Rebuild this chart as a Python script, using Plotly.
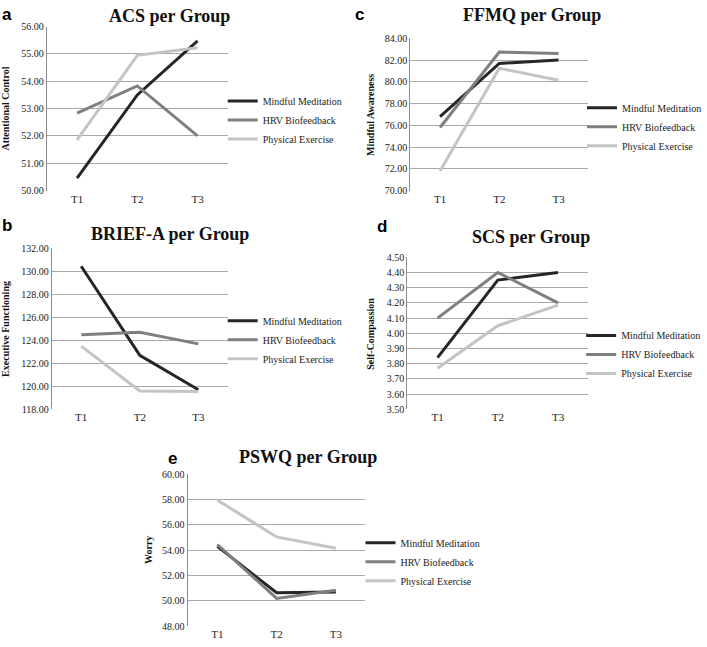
import plotly.graph_objects as go

times = ["T1", "T2", "T3"]
groups = ["Mindful Meditation", "HRV Biofeedback", "Physical Exercise"]
colors = ["#262626", "#7f7f7f", "#c4c4c4"]

# ACS
acs_mindful = [50.45, 53.50, 55.48]
acs_hrv = [52.83, 53.83, 52.00]
acs_physical = [51.85, 54.95, 55.23]

# BRIEF-A
brief_mindful = [130.45, 122.70, 119.70]
brief_hrv = [124.50, 124.70, 123.70]
brief_physical = [123.50, 119.60, 119.55]

# FFMQ
ffmq_mindful = [76.80, 81.70, 82.00]
ffmq_hrv = [75.80, 82.75, 82.62]
ffmq_physical = [71.80, 81.25, 80.15]

# SCS
scs_mindful = [3.84, 4.35, 4.40]
scs_hrv = [4.10, 4.40, 4.20]
scs_physical = [3.77, 4.05, 4.185]

# PSWQ
pswq_mindful = [54.30, 50.65, 50.70]
pswq_hrv = [54.45, 50.20, 50.85]
pswq_physical = [57.95, 55.05, 54.15]

W, H = 707, 647


def px(v):
    return v / W


def py(v):
    return 1 - v / H


# plot box is (left, right, top, bottom) in pixels of the 707x647 page
# leg = (x of legend box, y of first legend item)
panels = [
    dict(letter="a", title="ACS per Group", ytitle="Attentional Control",
         series=[acs_mindful, acs_hrv, acs_physical], rng=[50, 56], dtick=1,
         box=(47, 228, 21, 188), tpos=(170, 10), lpos=(7, 9), ytx=6, leg=(223, 91)),
    dict(letter="c", title="FFMQ per Group", ytitle="Mindful Awareness",
         series=[ffmq_mindful, ffmq_hrv, ffmq_physical], rng=[70, 84], dtick=2,
         box=(411, 589, 33, 188), tpos=(533, 9), lpos=(360, 9), ytx=371, leg=(583, 98)),
    dict(letter="b", title="BRIEF-A per Group", ytitle="Executive Functioning",
         series=[brief_mindful, brief_hrv, brief_physical], rng=[118, 132], dtick=2,
         box=(52, 228, 247, 411), tpos=(170, 232), lpos=(7, 224), ytx=6, leg=(223, 315)),
    dict(letter="d", title="SCS per Group", ytitle="Self-Compassion",
         series=[scs_mindful, scs_hrv, scs_physical], rng=[3.5, 4.5], dtick=0.1,
         box=(408, 589, 256, 411), tpos=(532, 235), lpos=(383, 225), ytx=371, leg=(582, 330)),
    dict(letter="e", title="PSWQ per Group", ytitle="Worry",
         series=[pswq_mindful, pswq_hrv, pswq_physical], rng=[48, 60], dtick=2,
         box=(188, 366, 477, 632), tpos=(308, 460), lpos=(173, 461), ytx=148, leg=(361, 541)),
]

serif = "'Liberation Serif', 'Times New Roman', serif"
fig = go.Figure()
annotations = []
layout = {}

for i, p in enumerate(panels):
    n = "" if i == 0 else str(i + 1)
    leg = "legend" + n
    for g, name in enumerate(groups):
        fig.add_trace(go.Scatter(
            x=times, y=p["series"][g], mode="lines", name=name,
            line=dict(color=colors[g], width=3),
            xaxis="x" + n, yaxis="y" + n, legend=leg,
        ))
    l, r, t, b = p["box"]
    layout["xaxis" + n] = dict(
        domain=[px(l), px(r)], anchor="y" + n, range=[-0.5, 2.5],
        showgrid=False, zeroline=False, showline=False, ticks="",
        tickfont=dict(family=serif, size=11, color="#222"),
    )
    layout["yaxis" + n] = dict(
        domain=[py(b), py(t)], anchor="x" + n, range=p["rng"], dtick=p["dtick"],
        tickformat=".2f", showgrid=True, gridcolor="#a8a8a8", gridwidth=1.3,
        zeroline=False, showline=True, linecolor="#8c8c8c", linewidth=1.3,
        ticks="", tickfont=dict(family=serif, size=10, color="#222"),
    )
    layout[leg] = dict(
        x=px(p["leg"][0]), y=py(p["leg"][1] - 9), xanchor="left", yanchor="top",
        font=dict(family=serif, size=10, color="#222"), bgcolor="rgba(0,0,0,0)",
        tracegroupgap=0, itemwidth=30,
    )
    annotations.append(dict(
        text="<b>" + p["title"] + "</b>", x=px(p["tpos"][0]), y=py(p["tpos"][1]),
        xref="paper", yref="paper", showarrow=False, xanchor="center", yanchor="middle",
        font=dict(family=serif, size=18, color="#111"),
    ))
    annotations.append(dict(
        text="<b>" + p["letter"] + "</b>", x=px(p["lpos"][0]), y=py(p["lpos"][1]),
        xref="paper", yref="paper", showarrow=False, xanchor="center", yanchor="middle",
        font=dict(family="'Liberation Sans', Arial, sans-serif", size=17, color="#000"),
    ))
    annotations.append(dict(
        text="<b>" + p["ytitle"] + "</b>", x=px(p["ytx"]), y=py((t + b) / 2),
        xref="paper", yref="paper", showarrow=False, textangle=-90,
        xanchor="center", yanchor="middle",
        font=dict(family=serif, size=10, color="#111"),
    ))

fig.update_layout(
    width=W, height=H, margin=dict(l=0, r=0, t=0, b=0),
    paper_bgcolor="white", plot_bgcolor="white",
    annotations=annotations, **layout,
)
# drop the default page margin so the figure fills the window exactly
fig.write_html(
    "out.html",
    config={"displayModeBar": False},
    post_script="document.body.style.margin = '0';",
)
